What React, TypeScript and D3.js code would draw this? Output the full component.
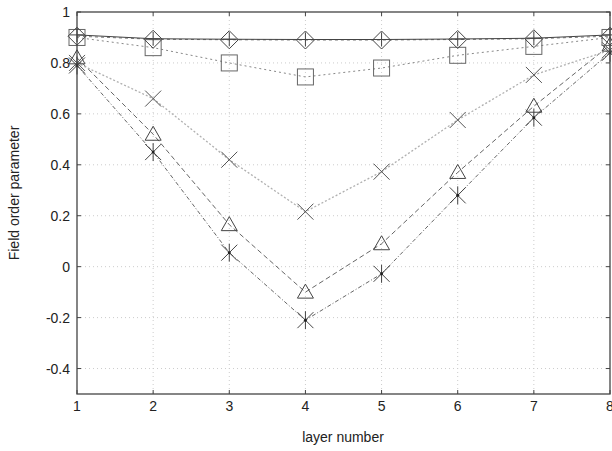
import React from "react";
import * as d3 from "d3";

const layers = [1, 2, 3, 4, 5, 6, 7, 8];
const plusVals = [0.91, 0.895, 0.893, 0.892, 0.892, 0.894, 0.897, 0.91];
const diamondVals = [0.905, 0.893, 0.891, 0.89, 0.89, 0.892, 0.895, 0.905];
const squareVals = [0.9, 0.86, 0.8, 0.745, 0.78, 0.83, 0.865, 0.9];
const crossVals = [0.8, 0.66, 0.42, 0.216, 0.373, 0.576, 0.753, 0.85];
const triangleVals = [0.82, 0.52, 0.165, -0.1, 0.09, 0.37, 0.63, 0.87];
const starVals = [0.79, 0.45, 0.055, -0.21, -0.028, 0.28, 0.585, 0.84];
const yTicks = [1, 0.8, 0.6, 0.4, 0.2, 0, -0.2, -0.4];

const W = 612, H = 451;
const L = 77, R = 610, T = 12, B = 394;

export default function App() {
  const x = d3.scaleLinear().domain([1, 8]).range([L, R]);
  const y = d3.scaleLinear().domain([-0.5, 1]).range([B, T]);
  const line = d3.line<number>().x((_, i) => x(layers[i])).y((d) => y(d));

  const series = [
    { vals: triangleVals, color: "#666", dash: "5,3", width: 1, marker: "triangle" },
    { vals: starVals, color: "#666", dash: "4,2,1,2", width: 1, marker: "star" },
    { vals: crossVals, color: "#b0b0b0", dash: "2,2", width: 1.3, marker: "cross" },
    { vals: squareVals, color: "#888", dash: "2,3", width: 1, marker: "square" },
    { vals: diamondVals, color: "#777", dash: "3,3", width: 1, marker: "diamond" },
    { vals: plusVals, color: "#444", dash: "", width: 1, marker: "plus" },
  ];

  const marker = (m: string, cx: number, cy: number, key: string) => {
    const s = 8;
    const st = { fill: "none", stroke: "#444", strokeWidth: 1 };
    switch (m) {
      case "triangle":
        return <path key={key} d={`M${cx},${cy - 8}L${cx + 8},${cy + 6}L${cx - 8},${cy + 6}Z`} {...st} />;
      case "square":
        return <rect key={key} x={cx - s} y={cy - s} width={2 * s} height={2 * s} {...st} stroke="#666" />;
      case "diamond":
        return <path key={key} d={`M${cx},${cy - 9}L${cx + 9},${cy}L${cx},${cy + 9}L${cx - 9},${cy}Z`} {...st} />;
      case "plus":
        return <path key={key} d={`M${cx - 7},${cy}H${cx + 7}M${cx},${cy - 7}V${cy + 7}`} {...st} />;
      case "cross":
        return <path key={key} d={`M${cx - 8},${cy - 8}L${cx + 8},${cy + 8}M${cx - 8},${cy + 8}L${cx + 8},${cy - 8}`} {...st} stroke="#555" />;
      case "star":
        return (
          <g key={key}>
            <path d={`M${cx - 8},${cy - 8}L${cx + 8},${cy + 8}M${cx - 8},${cy + 8}L${cx + 8},${cy - 8}M${cx},${cy - 9}V${cy + 9}`} {...st} />
            <circle cx={cx} cy={cy} r={1.5} fill="#222" />
          </g>
        );
    }
    return null;
  };

  return (
    <svg width={W} height={H} style={{ position: "absolute", left: 0, top: 0, background: "#fff" }}
      fontFamily="Liberation Sans, Arial, sans-serif">
      <rect x={0} y={0} width={W} height={H} fill="#fff" />
      {layers.slice(1, -1).map((l) => (
        <line key={"gx" + l} x1={x(l)} x2={x(l)} y1={T} y2={B} stroke="#ccc" strokeDasharray="1,3" />
      ))}
      {yTicks.slice(1).map((t) => (
        <line key={"gy" + t} x1={L} x2={R} y1={y(t)} y2={y(t)} stroke="#ccc" strokeDasharray="1,3" />
      ))}
      {series.map((s, si) => (
        <path key={"l" + si} d={line(s.vals) || ""} fill="none" stroke={s.color} strokeWidth={s.width} strokeDasharray={s.dash} />
      ))}
      {series.map((s, si) => s.vals.map((v, i) => marker(s.marker, x(layers[i]), y(v), `m${si}-${i}`)))}
      <rect x={L} y={T} width={R - L} height={B - T} fill="none" stroke="#444" strokeWidth={1.3} />
      {layers.map((l) => (
        <g key={"tx" + l}>
          <line x1={x(l)} x2={x(l)} y1={B} y2={B - 4} stroke="#444" />
          <line x1={x(l)} x2={x(l)} y1={T} y2={T + 4} stroke="#444" />
          <text x={x(l)} y={411} textAnchor="middle" fontSize={14} fill="#222">{l}</text>
        </g>
      ))}
      {yTicks.map((t) => (
        <g key={"ty" + t}>
          <line x1={L} x2={L + 4} y1={y(t)} y2={y(t)} stroke="#444" />
          <line x1={R} x2={R - 4} y1={y(t)} y2={y(t)} stroke="#444" />
          <text x={70} y={y(t) + 5} textAnchor="end" fontSize={14} fill="#222">{String(t)}</text>
        </g>
      ))}
      <text x={343} y={442} textAnchor="middle" fontSize={14} fill="#222">layer number</text>
      <text transform={`translate(19,${(T + B) / 2 - 10}) rotate(-90)`} textAnchor="middle" fontSize={14} fill="#222">Field order parameter</text>
    </svg>
  );
}
